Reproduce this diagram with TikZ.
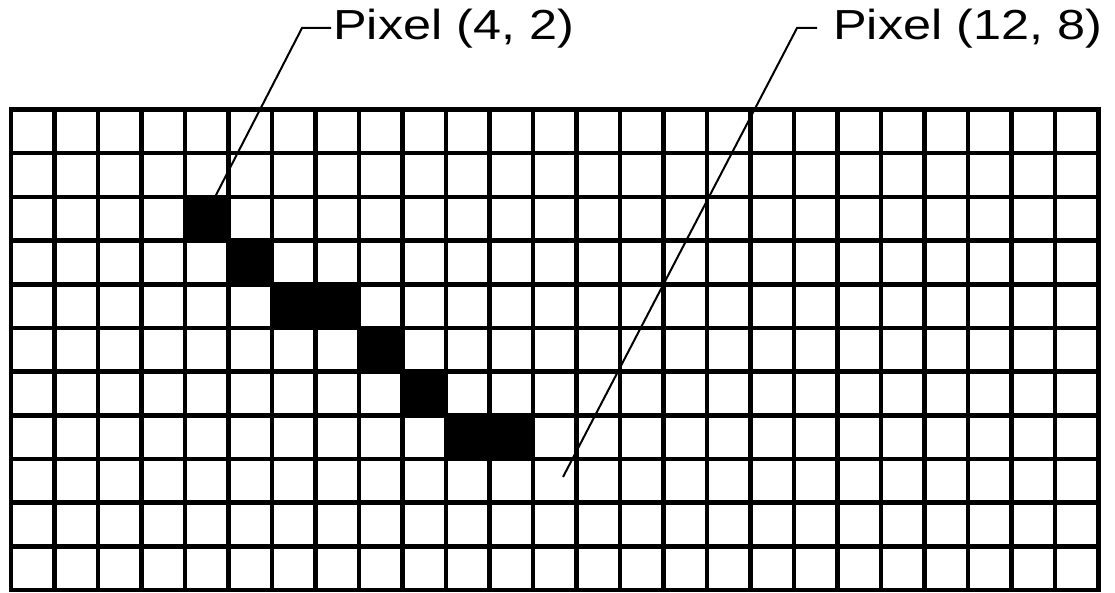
\documentclass[tikz,border=0pt]{standalone}
\usepackage{graphicx}
\usepackage{fontspec}
\setmainfont{Liberation Sans}
\begin{document}
\begin{tikzpicture}[x=1pt,y=1pt,
  gridline/.style={line width=4.6pt, line cap=rect},
  pointer/.style={line width=2pt},
  cellfill/.style={fill=black},
  lbl/.style={anchor=base west, inner sep=0pt, font=\fontsize{42}{42}\selectfont}]
\useasboundingbox (0,0) rectangle (1115,592);
\def\cw{43.5}\def\rh{43.68}
% filled pixels
\foreach \c/\r in {4/2,5/3,6/4,7/4,8/5,9/6,10/7,11/7}
  \fill[cellfill] ({11+\c*\cw},{482.5-\r*\rh}) rectangle ({11+(\c+1)*\cw},{482.5-(\r+1)*\rh});
% grid
\foreach \i in {0,...,25} \draw[gridline] ({11+\i*\cw},2) -- ({11+\i*\cw},482.5);
\foreach \j in {0,...,11} \draw[gridline] (11,{482.5-\j*\rh}) -- (1098.5,{482.5-\j*\rh});
% labels
\node[lbl] (l1) at (333,552) {\scalebox{1.2}[1]{Pixel (4, 2)}};
\node[lbl] (l2) at (833,552) {\scalebox{1.2}[1]{Pixel (12, 8)}};
% pointers
\coordinate (t1) at (215,395);
\coordinate (c1) at (302,564);
\coordinate (d1) at (331,564);
\coordinate (t2) at (563,115);
\coordinate (c2) at (797,564);
\coordinate (d2) at (817,564);
\draw[pointer] (t1) -- (c1) -- (d1);
\draw[pointer] (t2) -- (c2) -- (d2);
\end{tikzpicture}
\end{document}
